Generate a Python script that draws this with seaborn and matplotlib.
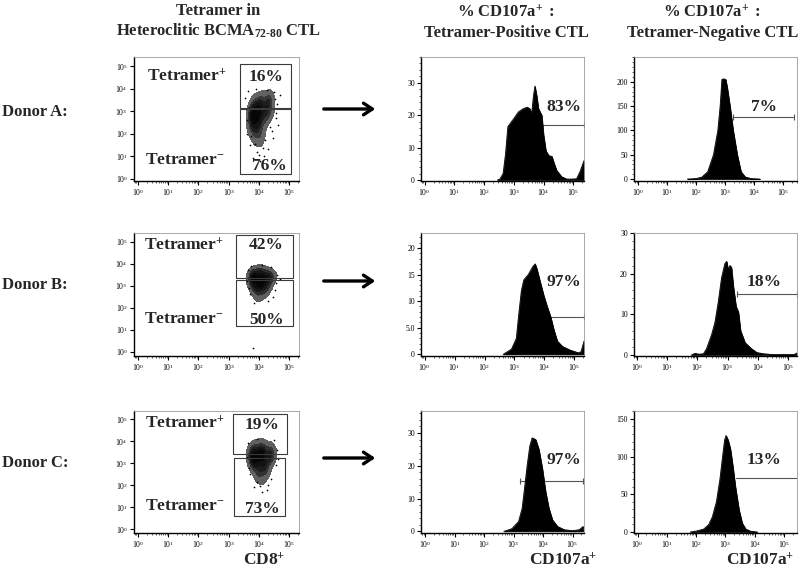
import numpy as np
import pandas as pd
import matplotlib
matplotlib.use("Agg")
import matplotlib.pyplot as plt
import seaborn as sns
from matplotlib.patches import Rectangle, FancyArrowPatch
from matplotlib.ticker import FixedLocator, NullLocator, AutoMinorLocator, LogLocator, FuncFormatter
from matplotlib.colors import LinearSegmentedColormap

sns.set_theme(style="ticks")
plt.rcParams['font.family'] = ['Liberation Serif', 'DejaVu Serif']
plt.rcParams['mathtext.fontset'] = 'custom'
plt.rcParams['mathtext.rm'] = 'Liberation Serif'
plt.rcParams['mathtext.bf'] = 'Liberation Serif:bold'
plt.rcParams['mathtext.it'] = 'Liberation Serif:italic'

# ---------------- data ----------------
donors = ["Donor A:", "Donor B:", "Donor C:"]
tet_pos_pct = ["16%", "42%", "19%"]
tet_neg_pct = ["76%", "50%", "73%"]
cd107_pos_pct = ["83%", "97%", "97%"]
cd107_neg_pct = ["7%", "18%", "13%"]

# scatter clouds: anchor points (log10 CD8, log10 tetramer) and weights
cloud_a_x = [3.78, 3.98, 4.20, 4.35, 4.05, 4.30, 3.85, 3.80, 4.00, 4.22, 3.80, 4.00, 3.88, 4.08, 3.95, 4.10, 4.38]
cloud_a_y = [3.05, 3.10, 3.10, 3.30, 3.45, 3.55, 3.40, 2.75, 2.80, 2.70, 2.40, 2.40, 2.10, 2.00, 1.75, 1.50, 2.90]
cloud_a_w = [3.0, 3.0, 2.5, 2.0, 2.5, 2.0, 1.5, 3.5, 3.0, 2.0, 3.0, 2.5, 2.0, 1.5, 1.0, 0.5, 1.2]
cloud_b_x = [3.82, 4.05, 4.28, 3.85, 4.10, 4.35, 3.82, 4.05, 4.28, 3.92, 4.18, 4.00, 4.45, 3.72]
cloud_b_y = [3.60, 3.65, 3.55, 3.35, 3.30, 3.30, 3.05, 3.00, 3.00, 2.75, 2.70, 2.45, 3.45, 3.30]
cloud_b_w = [2.0, 2.5, 2.0, 3.0, 3.5, 2.0, 2.5, 3.0, 2.0, 2.0, 1.5, 1.0, 1.0, 1.0]
cloud_c_x = [3.88, 4.10, 4.35, 3.80, 4.10, 4.40, 3.80, 4.05, 4.35, 3.85, 4.18, 4.00, 4.22, 4.00, 4.15]
cloud_c_y = [3.75, 3.80, 3.70, 3.50, 3.50, 3.45, 3.25, 3.25, 3.20, 2.95, 2.90, 2.65, 2.60, 2.35, 2.10]
cloud_c_w = [1.5, 1.5, 1.2, 2.5, 3.0, 2.0, 3.0, 3.5, 2.5, 3.0, 2.5, 2.0, 1.5, 1.0, 0.5]

# sparse events outside the dense cores (log10 CD8, log10 tetramer)
sparse_a_x = [3.55, 3.60, 4.55, 4.60, 3.95, 4.15, 4.05, 3.70, 4.45, 3.90, 4.25, 4.50, 4.70, 3.65, 4.30,
              3.80, 4.20, 4.35, 3.62, 4.62, 3.68, 4.52, 4.12, 3.86, 4.42, 4.00, 3.74, 4.56]
sparse_a_y = [3.60, 2.00, 2.90, 3.30, 1.20, 1.00, 0.80, 1.50, 1.80, 4.00, 3.95, 3.85, 3.70, 3.90, 1.30,
              0.90, 1.70, 2.30, 2.60, 2.40, 3.20, 3.55, 1.35, 1.55, 2.10, 1.05, 1.90, 2.70]
sparse_b_x = [3.60, 4.55, 4.60, 3.70, 4.45, 3.85, 4.30, 4.10, -0.20, 3.80, 4.70, 3.65, 3.68, 4.52, 4.40, 3.75]
sparse_b_y = [3.20, 3.10, 3.50, 2.60, 2.50, 2.20, 2.30, 3.95, 3.00, 0.15, 3.30, 3.70, 2.90, 2.80, 3.85, 3.90]
sparse_c_x = [3.60, 4.60, 4.55, 3.70, 4.40, 3.85, 4.25, 4.10, 3.95, 4.50, 3.65, 4.30, 3.68, 4.62, 4.05, 3.92]
sparse_c_y = [3.30, 3.60, 2.90, 2.50, 2.30, 1.90, 1.80, 1.70, 4.10, 4.05, 3.90, 2.00, 2.80, 3.20, 1.95, 2.15]

# scatter gates (log10): x0, x1, y0, y1
gate_tp = [(3.39, 5.07, 3.16, 5.10), (3.25, 5.13, 3.35, 5.30), (3.15, 4.93, 3.40, 5.24)]
gate_tn = [(3.39, 5.07, 0.20, 3.09), (3.25, 5.13, 1.18, 3.27), (3.17, 4.87, 0.60, 3.25)]

# CD107a histograms: log10 intensity and counts
hist_a_pos_logx = [2.45, 2.53, 2.64, 2.72, 2.80, 3.00, 3.15, 3.31, 3.45, 3.54, 3.60, 3.66, 3.71, 3.77, 3.83, 3.94, 4.00, 4.08, 4.18, 4.28, 4.36, 4.44, 4.61, 4.78, 4.95, 5.11, 5.22, 5.36]
hist_a_pos_cnt = [0, 0.3, 2, 8, 16.5, 19, 21, 22, 22.5, 22, 20.5, 26, 29, 26, 22, 20, 14, 9, 7.5, 7.3, 5, 3, 1, 0.3, 0.3, 0.4, 2.5, 6]
hist_a_neg_logx = [1.70, 2.00, 2.20, 2.40, 2.60, 2.75, 2.83, 2.89, 2.95, 3.02, 3.07, 3.17, 3.28, 3.42, 3.55, 3.70, 3.90, 4.20]
hist_a_neg_cnt = [0, 1, 4, 15, 50, 100, 150, 205, 206, 205, 190, 150, 100, 50, 15, 4, 1, 0]
hist_b_pos_logx = [2.62, 2.90, 3.06, 3.15, 3.23, 3.31, 3.46, 3.61, 3.69, 3.75, 3.84, 3.98, 4.09, 4.21, 4.32, 4.43, 4.60, 4.86, 5.13, 5.22, 5.32]
hist_b_pos_cnt = [0, 1, 3, 8, 12, 14, 15, 16.5, 17, 16, 14, 11, 9, 7, 4.5, 2.5, 1.5, 0.8, 0.3, 0.5, 2.5]
hist_b_neg_logx = [1.80, 1.92, 2.05, 2.20, 2.30, 2.47, 2.58, 2.69, 2.80, 2.91, 2.97, 3.02, 3.08, 3.13, 3.19, 3.28, 3.36, 3.43, 3.58, 3.80, 3.97, 4.19, 4.50, 5.20, 5.30]
hist_b_neg_cnt = [0, 0.4, 0.2, 0.3, 1.5, 5, 8, 13, 19, 22.5, 23, 21, 22, 21.5, 17, 12, 10.5, 6, 3, 1.5, 0.6, 0.3, 0.1, 0.1, 0.5]
hist_c_pos_logx = [2.67, 2.94, 3.17, 3.29, 3.37, 3.46, 3.55, 3.63, 3.75, 3.86, 3.98, 4.09, 4.20, 4.32, 4.49, 4.72, 5.00, 5.23, 5.36]
hist_c_pos_cnt = [0, 0.8, 3, 7, 13, 20, 26, 28.5, 28, 25, 19, 12, 7, 3.5, 1.5, 0.5, 0.2, 0.5, 1.5]
hist_c_neg_logx = [1.80, 2.03, 2.26, 2.43, 2.55, 2.69, 2.81, 2.90, 2.97, 3.02, 3.09, 3.17, 3.26, 3.34, 3.46, 3.57, 3.69, 3.86, 4.09]
hist_c_neg_cnt = [0, 1.5, 4, 10, 20, 40, 70, 100, 122, 128, 122, 110, 85, 60, 30, 12, 4, 1, 0]

# histogram gates (log10 lo, log10 hi, height)
gate_pos = [(3.00, 5.36, 17.0), (3.22, 5.32, 7.0), (3.23, 5.36, 15.3)]
gate_neg = [(3.28, 5.38, 128.0), (3.32, 5.30, 15.1), (3.35, 5.44, 71.0)]

# axis settings
hist_pos_yticks = [[0, 10, 20, 30], [0, 5, 10, 15, 20], [0, 10, 20, 30]]
hist_pos_ylabels = [["0", "10", "20", "30"], ["0", "5.0", "10", "15", "20"], ["0", "10", "20", "30"]]
hist_neg_yticks = [[0, 50, 100, 150, 200], [0, 10, 20, 30], [0, 50, 100, 150]]
hist_pos_ylim = [(-0.3, 38), (-0.3, 22.8), (-0.5, 36.7)]
hist_neg_ylim = [(-4, 251), (-0.25, 30), (-1.3, 160.5)]
hist_pos_xlim = [(-0.12, 5.36), (-0.12, 5.32), (-0.14, 5.39)]
hist_neg_xlim = [(-0.14, 5.48), (-0.10, 5.30), (-0.12, 5.44)]
scat_xlim = (-0.12, 5.32)
scat_ylim = [(-0.10, 5.40), (-0.20, 5.39), (-0.18, 5.38)]
decades = [0, 1, 2, 3, 4, 5]

clouds = [(cloud_a_x, cloud_a_y, cloud_a_w), (cloud_b_x, cloud_b_y, cloud_b_w), (cloud_c_x, cloud_c_y, cloud_c_w)]
sparses = [(sparse_a_x, sparse_a_y), (sparse_b_x, sparse_b_y), (sparse_c_x, sparse_c_y)]
hists_pos = [(hist_a_pos_logx, hist_a_pos_cnt), (hist_b_pos_logx, hist_b_pos_cnt), (hist_c_pos_logx, hist_c_pos_cnt)]
hists_neg = [(hist_a_neg_logx, hist_a_neg_cnt), (hist_b_neg_logx, hist_b_neg_cnt), (hist_c_neg_logx, hist_c_neg_cnt)]

# ---------------- layout ----------------
W, H = 800, 574
fig = plt.figure(figsize=(8.0, 5.74), dpi=100)
fig.patch.set_facecolor("white")

def fx(px):
    return px / W

def fy(py):
    return 1 - py / H

def add_ax(l, r, t, b):
    return fig.add_axes([fx(l), fy(b), (r - l) / W, (b - t) / H])

rows = [(57, 181), (233, 356), (411, 533)]
col_sc = (134, 299)
col_hp = (421, 584)
col_hn = (634, 797)

BOLD = 12
TICKFS = 5.5

decade_fmt = FuncFormatter(lambda v, p: r"$\mathrm{10^{%d}}$" % int(round(np.log10(v))))
cloud_cmap = LinearSegmentedColormap.from_list("cloud", ["#7a7a7a", "#222222", "#000000"])

def style_axes(ax):
    for s in ["left", "bottom"]:
        ax.spines[s].set_color("black")
        ax.spines[s].set_linewidth(1.0)
    for s in ["top", "right"]:
        ax.spines[s].set_visible(True)
        ax.spines[s].set_color("#9a9a9a")
        ax.spines[s].set_linewidth(0.6)
    ax.tick_params(axis="both", which="major", direction="out", length=3, width=0.8,
                   labelsize=TICKFS, pad=1.5, colors="black")
    ax.tick_params(axis="both", which="minor", direction="out", length=1.6, width=0.5)
    ax.set_xlabel("")
    ax.set_ylabel("")
    ax.set_facecolor("white")

def log_x(ax, lim):
    ax.set_xscale("log")
    ax.set_xlim(10 ** lim[0], 10 ** lim[1])
    ax.xaxis.set_major_locator(FixedLocator([10.0 ** d for d in decades]))
    ax.xaxis.set_major_formatter(decade_fmt)
    ax.xaxis.set_minor_locator(LogLocator(base=10, subs=np.arange(2, 10)))

for i in range(3):
    t, b = rows[i]
    # ---- tetramer vs CD8 scatter ----
    ax = add_ax(col_sc[0], col_sc[1], t, b)
    cx, cy, cw = clouds[i]
    cdf = pd.DataFrame({"cd8": 10 ** np.array(cx), "tet": 10 ** np.array(cy), "w": cw})
    sns.kdeplot(data=cdf, x="cd8", y="tet", weights="w", fill=True, cmap=cloud_cmap,
                levels=6, thresh=0.06, bw_adjust=0.85, log_scale=(True, True), ax=ax, zorder=2)
    sx, sy = sparses[i]
    sdf = pd.DataFrame({"cd8": 10 ** np.array(sx), "tet": 10 ** np.array(sy)})
    sns.scatterplot(data=sdf, x="cd8", y="tet", color="black", s=1.5, linewidth=0, ax=ax, zorder=3)
    for g in (gate_tp[i], gate_tn[i]):
        ax.add_patch(Rectangle((10 ** g[0], 10 ** g[2]), 10 ** g[1] - 10 ** g[0], 10 ** g[3] - 10 ** g[2],
                               fill=False, edgecolor="#3a3a3a", linewidth=0.8, zorder=4))
    log_x(ax, scat_xlim)
    ax.set_yscale("log")
    ax.set_ylim(10 ** scat_ylim[i][0], 10 ** scat_ylim[i][1])
    ax.yaxis.set_major_locator(FixedLocator([10.0 ** d for d in decades]))
    ax.yaxis.set_major_formatter(decade_fmt)
    ax.yaxis.set_minor_locator(NullLocator())
    style_axes(ax)
    tpos = [(0.32, 0.84, 0.80, 0.84, 0.31, 0.17, 0.82, 0.12),
            (0.305, 0.90, 0.80, 0.90, 0.305, 0.30, 0.805, 0.295),
            (0.31, 0.90, 0.775, 0.885, 0.31, 0.225, 0.78, 0.20)][i]
    ax.text(tpos[0], tpos[1], r"$\mathbf{Tetramer}^{\mathbf{+}}$", transform=ax.transAxes,
            ha="center", va="center", fontsize=12.5, zorder=5)
    ax.text(tpos[2], tpos[3], tet_pos_pct[i], transform=ax.transAxes, ha="center", va="center",
            fontsize=12.5, fontweight="bold", zorder=5)
    ax.text(tpos[4], tpos[5], r"$\mathbf{Tetramer}^{\mathbf{-}}$", transform=ax.transAxes,
            ha="center", va="center", fontsize=12.5, zorder=5)
    ax.text(tpos[6], tpos[7], tet_neg_pct[i], transform=ax.transAxes, ha="center", va="center",
            fontsize=12.5, fontweight="bold", zorder=5)

    # ---- CD107a histograms ----
    for col, hdata, gate, yt, ylim, xlim, pct in [
        (col_hp, hists_pos[i], gate_pos[i], hist_pos_yticks[i], hist_pos_ylim[i], hist_pos_xlim[i], cd107_pos_pct[i]),
        (col_hn, hists_neg[i], gate_neg[i], hist_neg_yticks[i], hist_neg_ylim[i], hist_neg_xlim[i], cd107_neg_pct[i]),
    ]:
        ax = add_ax(col[0], col[1], t, b)
        hdf = pd.DataFrame({"cd107a": 10 ** np.array(hdata[0]), "count": hdata[1]})
        ax.plot([10 ** gate[0], 10 ** gate[1]], [gate[2], gate[2]], color="#555555", lw=0.8, zorder=1)
        if not (col is col_hn and i == 2):
            ax.plot([10 ** gate[0], 10 ** gate[1]], [gate[2], gate[2]], ls="none", marker="|",
                    ms=4, mew=0.8, color="#555555", zorder=1)
        ax.fill_between(hdf["cd107a"], hdf["count"], 0, color="black", lw=0.5, edgecolor="black", zorder=2)
        sns.lineplot(data=hdf, x="cd107a", y="count", color="black", lw=0.6, sort=False,
                     estimator=None, ax=ax, zorder=3)
        log_x(ax, xlim)
        ax.set_ylim(*ylim)
        ax.yaxis.set_major_locator(FixedLocator(yt))
        if col is col_hp:
            ax.set_yticklabels(hist_pos_ylabels[i])
        ax.yaxis.set_minor_locator(AutoMinorLocator(5))
        style_axes(ax)
        px = 0.875 if col is col_hp else 0.80
        ax.text(px, 0.60, pct, transform=ax.transAxes, ha="center", va="center",
                fontsize=12.5, fontweight="bold", zorder=5)

# ---------------- annotations ----------------
fig.text(fx(218), fy(11), "Tetramer in", ha="center", va="center", fontsize=BOLD, fontweight="bold")
fig.text(fx(218), fy(31), r"$\mathbf{Heteroclitic\ BCMA}_{\mathbf{72\text{-}80}}\mathbf{\ CTL}$",
         ha="center", va="center", fontsize=BOLD)
fig.text(fx(506), fy(13), r"$\mathbf{\%\ CD107a}^{\mathbf{+}}\mathbf{\ :}$", ha="center", va="center", fontsize=BOLD)
fig.text(fx(506), fy(33), "Tetramer-Positive CTL", ha="center", va="center", fontsize=BOLD, fontweight="bold")
fig.text(fx(712), fy(13), r"$\mathbf{\%\ CD107a}^{\mathbf{+}}\mathbf{\ :}$", ha="center", va="center", fontsize=BOLD)
fig.text(fx(798), fy(33), "Tetramer-Negative CTL", ha="right", va="center", fontsize=BOLD, fontweight="bold")

for d, py in zip(donors, [112, 285, 463]):
    fig.text(fx(2), fy(py), d, ha="left", va="center", fontsize=12, fontweight="bold")

for py in [109, 281, 458]:
    fig.add_artist(FancyArrowPatch((fx(321), fy(py)), (fx(378), fy(py)), transform=fig.transFigure,
                                   arrowstyle="->,head_length=0.45,head_width=0.3", mutation_scale=14,
                                   lw=2.4, color="black"))

fig.text(fx(264), fy(561), r"$\mathbf{CD8}^{\mathbf{+}}$", ha="center", va="center", fontsize=12.5)
fig.text(fx(563), fy(561), r"$\mathbf{CD107a}^{\mathbf{+}}$", ha="center", va="center", fontsize=12.5)
fig.text(fx(760), fy(561), r"$\mathbf{CD107a}^{\mathbf{+}}$", ha="center", va="center", fontsize=12.5)

fig.savefig("out.png", dpi=100, facecolor="white")
